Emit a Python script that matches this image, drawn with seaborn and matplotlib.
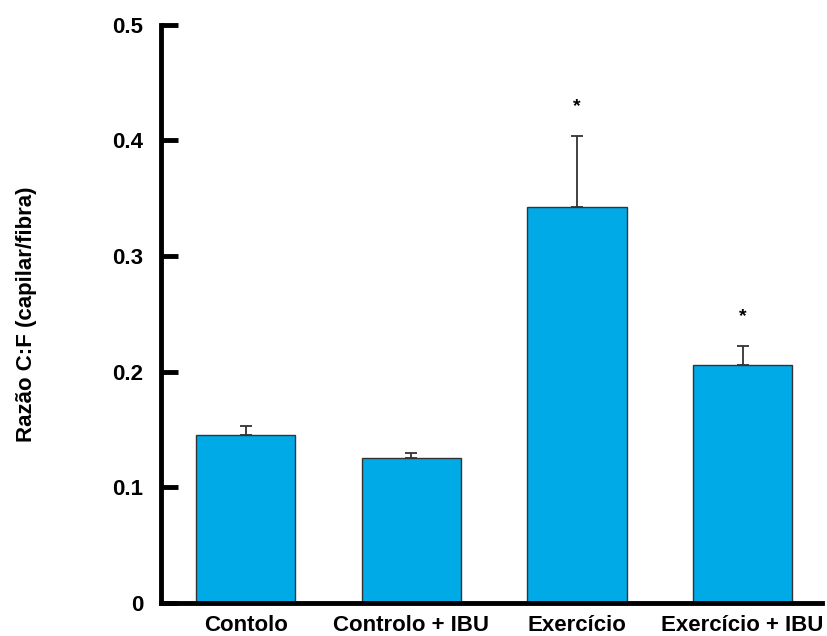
import matplotlib
matplotlib.use('Agg')
import matplotlib.pyplot as plt
import seaborn as sns
import pandas as pd

groups = ['Contolo', 'Controlo + IBU', 'Exercício', 'Exercício + IBU']
means = [0.145, 0.125, 0.342, 0.206]
errors = [0.008, 0.005, 0.062, 0.016]
signif = ['', '', '*', '*']

df = pd.DataFrame({'grupo': groups, 'razao': means})

sns.set_style('white')
plt.rcParams['font.family'] = ['Liberation Sans', 'DejaVu Sans']

fig = plt.figure(figsize=(8.27, 6.36), dpi=100)
ax = fig.add_axes([0.195, 0.052, 0.799, 0.909])

sns.barplot(data=df, x='grupo', y='razao', color='#00AAE7', saturation=1,
            width=0.6, edgecolor='#333333', linewidth=1, errorbar=None, ax=ax)

x = range(len(groups))
ax.errorbar(x, means, yerr=[[0] * len(errors), errors], fmt='none',
            ecolor='#333333', elinewidth=1.3, capsize=4, capthick=1.3)

for i, (m, e, s) in enumerate(zip(means, errors, signif)):
    if s:
        ax.text(i, m + e + 0.018, s, ha='center', va='bottom',
                fontsize=14, fontweight='bold', color='black')

ax.set_xlim(-0.51, 3.48)
ax.set_ylim(0, 0.5)
ax.set_yticks([0, 0.1, 0.2, 0.3, 0.4, 0.5])
ax.set_yticklabels(['0', '0.1', '0.2', '0.3', '0.4', '0.5'])
ax.set_xlabel('')
ax.set_ylabel('Razão C:F (capilar/fibra)', fontsize=16, fontweight='bold',
              color='black', labelpad=54)

for side in ['top', 'right']:
    ax.spines[side].set_visible(False)
for side in ['left', 'bottom']:
    ax.spines[side].set_linewidth(3.5)
    ax.spines[side].set_color('black')

ax.tick_params(axis='y', direction='in', length=12, width=3.5, pad=13,
               labelsize=16, left=True, color='black', labelcolor='black')
ax.tick_params(axis='x', length=0, pad=9, labelsize=16, labelcolor='black')
for lab in ax.get_xticklabels() + ax.get_yticklabels():
    lab.set_fontweight('bold')

fig.savefig('out.png', dpi=100)
